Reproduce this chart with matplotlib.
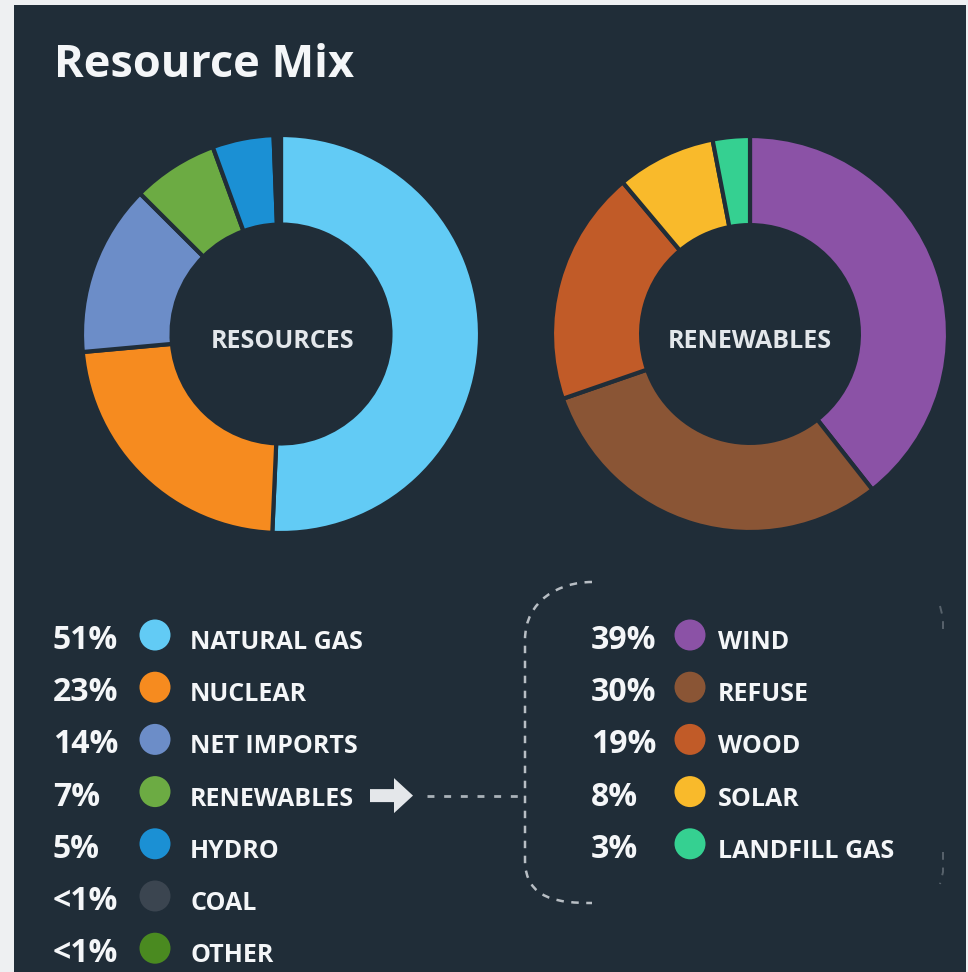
import matplotlib
matplotlib.use("Agg")
import matplotlib.pyplot as plt
from matplotlib.patches import Rectangle, Circle, FancyArrow
from matplotlib.path import Path
from matplotlib.patches import PathPatch

plt.rcParams['font.family'] = ['Open Sans', 'DejaVu Sans']

# ---- data ----
resource_labels = ["NATURAL GAS", "NUCLEAR", "NET IMPORTS", "RENEWABLES", "HYDRO", "COAL", "OTHER"]
resource_pct_text = ["51%", "23%", "14%", "7%", "5%", "<1%", "<1%"]
resource_values = [51, 23, 14, 7, 5, 0.3, 0.3]
resource_colors = ["#62cbf5", "#f68b1f", "#6c8dc8", "#6cab43", "#1b90d4", "#3b4550", "#4a8a20"]

renew_labels = ["WIND", "REFUSE", "WOOD", "SOLAR", "LANDFILL GAS"]
renew_pct_text = ["39%", "30%", "19%", "8%", "3%"]
renew_values = [39, 30, 19, 8, 3]
renew_colors = ["#8b52a6", "#8a5535", "#c15b28", "#f9ba2b", "#35d091"]

W, H = 968, 972
BG = "#202d38"
TXT = "#f4f6f8"

fig = plt.figure(figsize=(W / 100, H / 100), dpi=100)
fig.patch.set_facecolor("#eef0f2")
ax = fig.add_axes([0, 0, 1, 1])

def Y(py):
    return H - py

# panel
ax.add_patch(Rectangle((14, 0), 952, H - 5, facecolor=BG, edgecolor="none", zorder=0))

# title
ax.text(54, Y(77), "Resource Mix", color=TXT, fontsize=32.5, fontweight="bold",
        ha="left", va="baseline")

# donuts
R1, C1 = 199, (281, Y(334))
R2, C2 = 198, (750, Y(334))
ax.pie(resource_values, colors=resource_colors, startangle=90, counterclock=False,
       radius=R1, center=C1, wedgeprops=dict(width=0.45 * R1, edgecolor=BG, linewidth=3),
       frame=True)
ax.pie(renew_values, colors=renew_colors, startangle=90, counterclock=False,
       radius=R2, center=C2, wedgeprops=dict(width=0.45 * R2, edgecolor=BG, linewidth=3),
       frame=True)
ax.text(C1[0] + 2, Y(348), "RESOURCES", color="#e3e7eb", fontsize=18, fontweight="bold",
        ha="center", va="baseline")
ax.text(C2[0], Y(348), "RENEWABLES", color="#e3e7eb", fontsize=18, fontweight="bold",
        ha="center", va="baseline")

# left legend
row0, step = 635, 52.2
for i, (p, c, lab) in enumerate(zip(resource_pct_text, resource_colors, resource_labels)):
    yy = row0 + i * step
    ax.text(53, Y(yy + 14), p, color=TXT, fontsize=23, fontweight="bold", ha="left", va="baseline")
    ax.add_patch(Circle((155, Y(yy)), 15.5, facecolor=c, edgecolor="none"))
    ax.text(190, Y(yy + 14), lab, color=TXT, fontsize=18, fontweight="bold", ha="left", va="baseline")

# right legend
for i, (p, c, lab) in enumerate(zip(renew_pct_text, renew_colors, renew_labels)):
    yy = row0 + i * step
    ax.text(591, Y(yy + 14), p, color=TXT, fontsize=23, fontweight="bold", ha="left", va="baseline")
    ax.add_patch(Circle((690, Y(yy)), 15.5, facecolor=c, edgecolor="none"))
    ax.text(718, Y(yy + 14), lab, color=TXT, fontsize=18, fontweight="bold", ha="left", va="baseline")

# arrow after RENEWABLES
ya = Y(row0 + 3 * step + 4)
ax.add_patch(FancyArrow(370, ya, 24, 0, width=13, head_width=35, head_length=19,
                        length_includes_head=False, facecolor="#e4e7ea", edgecolor="none"))
ax.plot([427, 518], [ya, ya], color="#aab2b9", lw=2, ls=(0, (2.5, 3.5)))

# bracket
verts = [(592, Y(582)), (560, Y(582)), (525, Y(600)), (525, Y(640)),
         (525, Y(860)), (525, Y(900)), (560, Y(903)), (592, Y(903))]
codes = [Path.MOVETO, Path.CURVE4, Path.CURVE4, Path.CURVE4,
         Path.LINETO, Path.CURVE4, Path.CURVE4, Path.CURVE4]
ax.add_patch(PathPatch(Path(verts, codes), facecolor="none", edgecolor="#b8bec4",
                       lw=1.8, ls=(0, (3, 3))))
# faint right side of bracket
ax.plot([940, 943, 943], [Y(606), Y(618), Y(636)], color="#7d868e", lw=1.4,
        ls=(0, (4, 4)), alpha=0.6)
ax.plot([943, 943, 940], [Y(852), Y(872), Y(884)], color="#7d868e", lw=1.4,
        ls=(0, (4, 4)), alpha=0.6)

ax.set_xlim(0, W)
ax.set_ylim(0, H)
ax.set_aspect("auto")
ax.axis("off")

fig.savefig("out.png", dpi=100, facecolor=fig.get_facecolor())
